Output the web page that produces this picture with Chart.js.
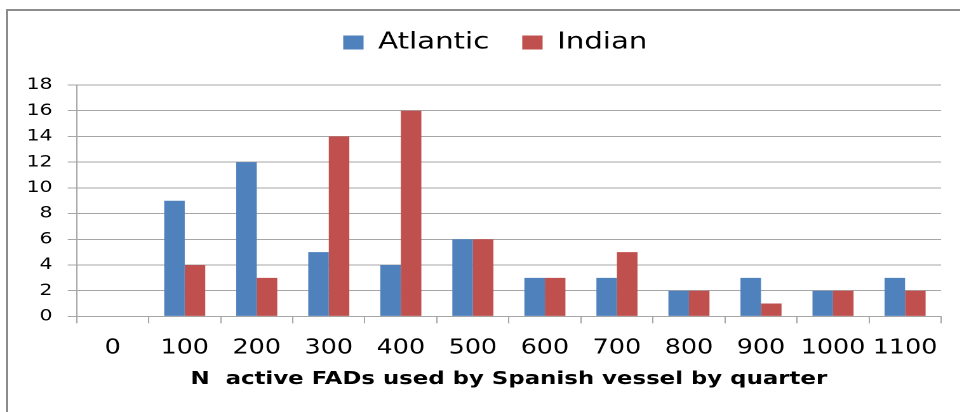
<!DOCTYPE html>
<html>
<head>
    <meta charset="utf-8">
    <title>Active FADs</title>
    <script src="https://cdn.jsdelivr.net/npm/chart.js"></script>
    <style>
        body {
            margin: 0;
            background: white;
            overflow: hidden;
        }

        #frame {
            position: absolute;
            left: 6px;
            top: 9px;
            width: 960px;
            height: 410px;
            border-left: 2px solid #8c8c8c;
            border-top: 2px solid #8c8c8c;
        }

        /* the original picture is stretched sideways, so draw narrow and widen it */
        #main {
            position: absolute;
            left: 0;
            top: 0;
            width: 756px;
            height: 412px;
            transform: scaleX(1.27);
            transform-origin: left top;
        }
    </style>
</head>
<body>
    <div id="frame"></div>
    <div id="main">
        <canvas id="myChart"></canvas>
    </div>

    <script>
        // values
        const categories = ['0', '100', '200', '300', '400', '500', '600', '700', '800', '900', '1000', '1100'];
        const atlantic = [0, 9, 12, 5, 4, 6, 3, 3, 2, 3, 2, 3];
        const indian = [0, 4, 3, 14, 16, 6, 3, 5, 2, 1, 2, 2];
        const xTitle = 'N  active FADs used by Spanish vessel by quarter';

        // push the plot down under the legend and nudge the legend right a bit
        const legendGap = {
            id: 'legendGap',
            beforeInit(chart) {
                const fit = chart.legend.fit;
                chart.legend.fit = function () {
                    fit.bind(chart.legend)();
                    this.height += 21;
                };
            },
            afterLayout(chart) {
                chart.legend.left += 15;
                chart.legend.right += 15;
            }
        };

        var ctx = document.getElementById('myChart').getContext('2d');
        var chart = new Chart(ctx, {
            type: 'bar',
            data: {
                labels: categories,
                datasets: [
                    { label: 'Atlantic', data: atlantic, backgroundColor: '#4F81BD' },
                    { label: 'Indian', data: indian, backgroundColor: '#C0504D' }
                ]
            },
            plugins: [legendGap],
            options: {
                responsive: true,
                maintainAspectRatio: false,
                devicePixelRatio: 2,
                animation: false,
                categoryPercentage: 0.57,
                barPercentage: 1.0,
                layout: {
                    padding: { left: 9, right: 15, top: 5, bottom: 18 }
                },
                plugins: {
                    legend: {
                        position: 'top',
                        labels: {
                            boxWidth: 16,
                            boxHeight: 14,
                            padding: 26,
                            color: '#000',
                            font: { family: 'DejaVu Sans', size: 23 }
                        }
                    },
                    tooltip: { enabled: false }
                },
                scales: {
                    y: {
                        min: 0,
                        max: 18,
                        ticks: {
                            stepSize: 2,
                            padding: 12,
                            color: '#000',
                            font: { family: 'DejaVu Sans', size: 16 }
                        },
                        grid: { color: '#a6a6a6', tickLength: 7 },
                        border: { color: '#a6a6a6' }
                    },
                    x: {
                        ticks: {
                            padding: 13,
                            autoSkip: false,
                            maxRotation: 0,
                            minRotation: 0,
                            color: '#000',
                            font: { family: 'DejaVu Sans', size: 20 }
                        },
                        grid: { drawOnChartArea: false, color: '#a6a6a6', tickLength: 7 },
                        border: { color: '#a6a6a6' },
                        title: {
                            display: true,
                            text: xTitle,
                            color: '#000',
                            padding: { top: -5, bottom: 4 },
                            font: { family: 'DejaVu Sans', size: 18, weight: 'bold' }
                        }
                    }
                }
            }
        });
    </script>
</body>
</html>
